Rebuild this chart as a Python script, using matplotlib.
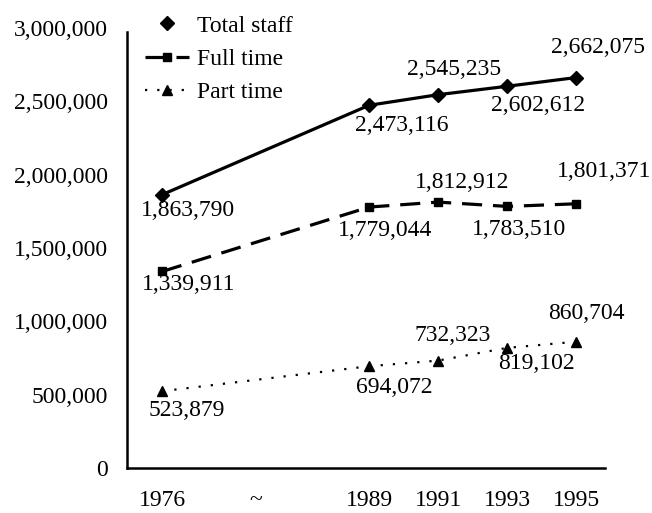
import matplotlib
matplotlib.use("Agg")
import matplotlib.pyplot as plt
from matplotlib.lines import Line2D
from matplotlib.ticker import FuncFormatter

# ---- data ----
years = ["1976", "1989", "1991", "1993", "1995"]
positions = [0, 3, 4, 5, 6]          # category positions on the x axis (gap after 1976)
total_staff = [1863790, 2473116, 2545235, 2602612, 2662075]
full_time = [1339911, 1779044, 1812912, 1783510, 1801371]
part_time = [523879, 694072, 732323, 819102, 860704]
series_names = ["Total staff", "Full time", "Part time"]
x_tick_labels = ["1976", "~", "1989", "1991", "1993", "1995"]
y_ticks = [0, 500000, 1000000, 1500000, 2000000, 2500000, 3000000]

# ---- style ----
plt.rcParams['font.family'] = ['Liberation Serif', 'DejaVu Serif']
FS = 17
W, H = 652, 513
fig = plt.figure(figsize=(W / 100, H / 100), dpi=100)
ax = fig.add_axes([127 / W, 1 - 468 / H, (605 - 127) / W, (468 - 28) / H])

total_style = dict(color='black', lw=2.3, linestyle='-', marker='D', markersize=7)
full_style = dict(color='black', lw=2.3, linestyle=(0, (6.3, 3.4)), marker='s', markersize=5.5)
part_style = dict(color='black', lw=1.6, linestyle=(0, (1, 4.5)), marker='^', markersize=7.5)

ax.plot(positions, total_staff, **total_style)
ax.plot(positions, full_time, **full_style)
ax.plot(positions, part_time, **part_style)

# label offsets (pixels) relative to each point
total_off = [(26, -16), (33, -20), (16, 25), (31, -19), (22, 30)]
full_off = [(26, -13), (16, -23), (24, 20), (12, -23), (28, 32)]
part_off = [(25, -19), (25, -21), (15, 25), (29, -16), (10, 28)]

for vals, offs in [(total_staff, total_off), (full_time, full_off), (part_time, part_off)]:
    for x, v, (dx, dy) in zip(positions, vals, offs):
        ax.annotate(f"{v:,}", (x, v), xytext=(dx, dy), textcoords='offset pixels',
                    ha='center', va='center', fontsize=FS, color='black')

# axes
ax.set_xlim(-0.51, 6.42)
ax.set_ylim(0, 3000000)
ax.set_yticks(y_ticks)
ax.yaxis.set_major_formatter(FuncFormatter(lambda v, p: f"{int(v):,}"))
ax.set_xticks([0, 1.35, 3, 4, 5, 6])
ax.set_xticklabels(x_tick_labels)
ax.tick_params(axis='y', length=0, pad=14, labelsize=FS)
ax.tick_params(axis='x', length=0, pad=16, labelsize=FS)
for s in ['top', 'right']:
    ax.spines[s].set_visible(False)
for s in ['left', 'bottom']:
    ax.spines[s].set_linewidth(1.8)
ax.spines['left'].set_bounds(0, 2970000)

# legend
handles = [
    Line2D([], [], color='black', linestyle='none', marker='D', markersize=7),
    Line2D([], [], **full_style),
    Line2D([], [], **part_style),
]
fig.legend(handles, series_names, loc='upper left', bbox_to_anchor=(145 / W, 1 - 15 / H),
           bbox_transform=fig.transFigure, frameon=False, fontsize=FS, borderpad=0,
           handlelength=1.85, handletextpad=0.35, labelspacing=0.5, numpoints=1,
           borderaxespad=0)

fig.savefig("out.png", dpi=100)
